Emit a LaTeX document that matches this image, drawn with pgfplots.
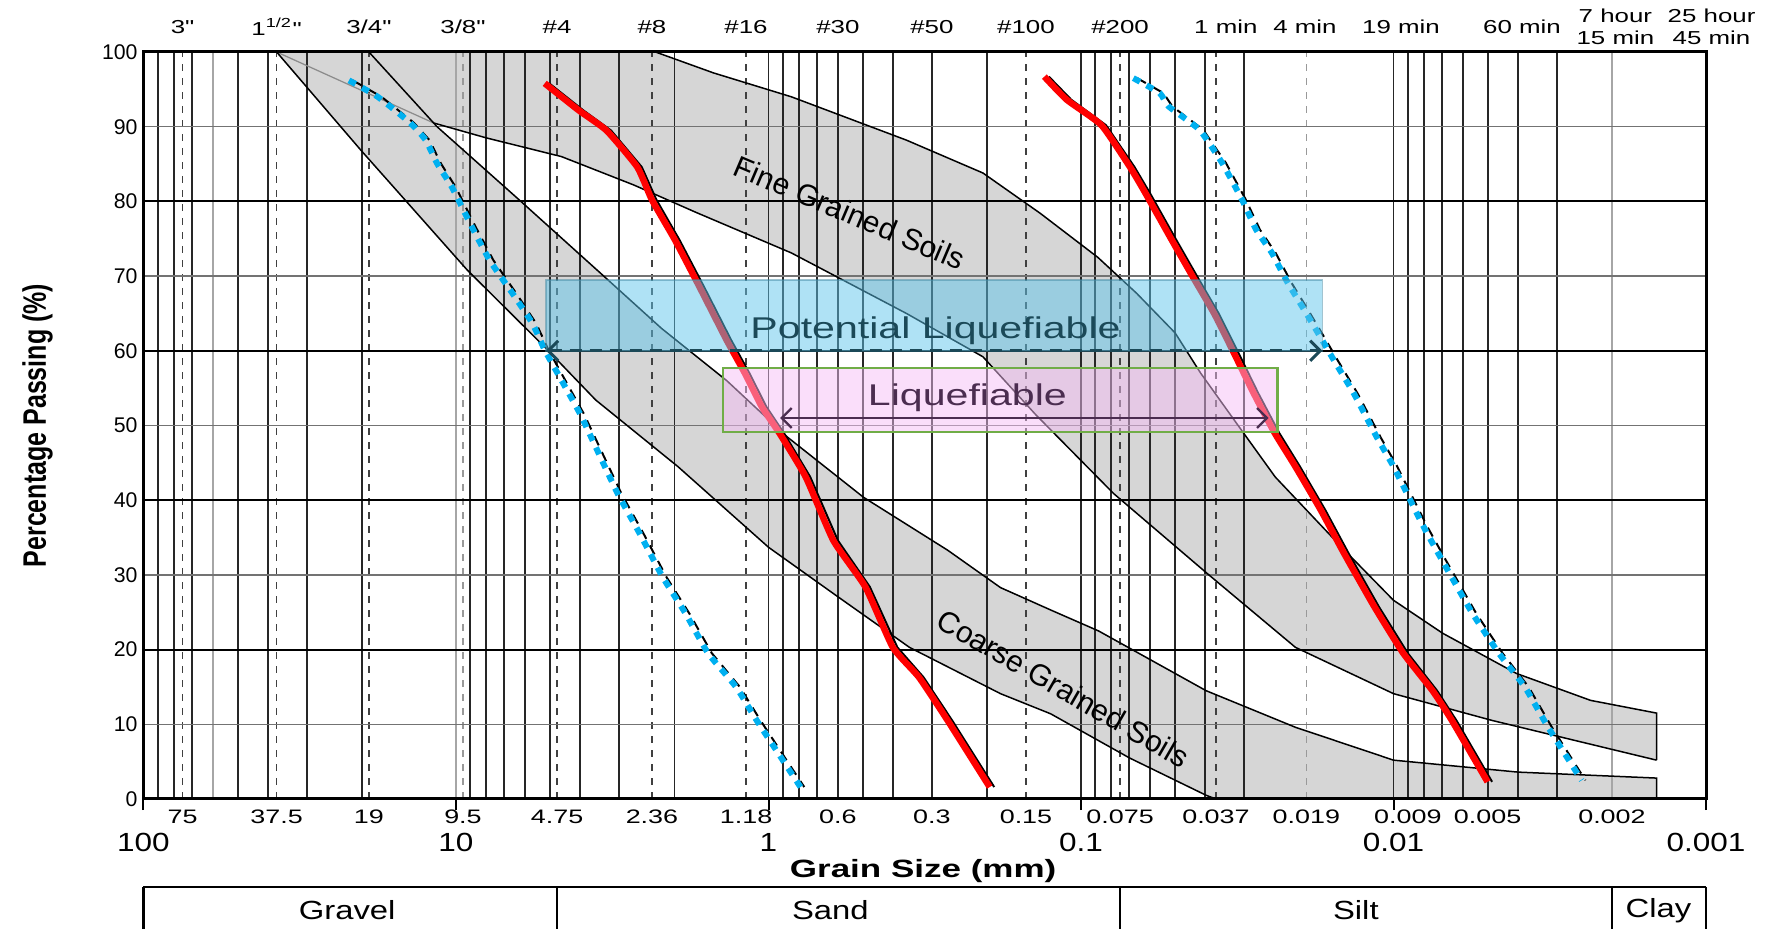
\documentclass[border=0pt]{standalone}
\usepackage{fontspec}
\setmainfont{Liberation Sans}
\newfontfamily\rawfont{Liberation Sans}[Ligatures=TeXOff]
\usepackage{graphicx}
\usepackage{pgfplots}
\pgfplotsset{compat=1.18}
\usetikzlibrary{arrows.meta,calc}

\definecolor{bandgray}{RGB}{214,214,214}
\definecolor{potfill}{RGB}{95,197,235}
\definecolor{potline}{RGB}{27,73,88}
\definecolor{liqfill}{RGB}{245,190,245}
\definecolor{liqline}{RGB}{112,173,71}
\definecolor{liqtext}{RGB}{75,45,80}
\definecolor{bluedot}{RGB}{0,176,240}

% horizontal stretch, the reference text is drawn wide
\newcommand{\sx}[2][1.35]{\scalebox{#1}[1]{#2}}
\newcommand{\dq}{{\rawfont\char"22\relax}}

\begin{document}
\begin{tikzpicture}
\begin{axis}[
  name=ax,
  xmode=log, x dir=reverse,
  xmin=0.001, xmax=100, ymin=0, ymax=100,
  width=625pt, height=298.8pt, scale only axis,
  clip=false, axis on top,
  axis line style={line width=1.2pt},
  xtick={100,10,1,0.1,0.01,0.001}, xticklabels={},
  xminorticks=false,
  xtick pos=bottom,
  tick align=outside, major tick length=4.5pt,
  x tick style={line width=0.8pt, black},
  ytick=\empty,
]

% ---- grey bands ----
% fine grained soils
\addplot[fill=bandgray, draw=none] coordinates {
  (37.5,100)(11.8,90.5)(8,88.5)(4.6,86)(2.7,82.2)(1.7,78.5)(0.845,73.1)(0.362,65.0)
  (0.206,59.2)(0.14,51.5)(0.0787,40.9)(0.0395,30.2)(0.0206,20.3)(0.01,14.1)(0.00482,10.5)(0.00144,5.2)
  (0.00144,11.5)(0.00234,13.2)(0.00404,16.8)(0.00697,22.2)(0.0100,26.6)(0.01435,33.3)(0.0239,43.1)
  (0.0318,50.3)(0.0414,57.0)(0.050,62.4)(0.0664,67.7)(0.0883,72.5)(0.135,78.4)(0.206,83.8)
  (0.362,88.2)(0.845,94.0)(1.5,97.2)(2.3,100)} -- cycle;
% coarse grained soils
\addplot[fill=bandgray, draw=none] coordinates {
  (37.5,100)(20.2,86.9)(9.2,70.8)(5.2,60.5)(3.57,53.4)(1.95,44.5)(1.0,33.7)(0.62,27.5)
  (0.354,20.3)(0.181,14.1)(0.125,11.4)(0.07,5.5)(0.0398,0.5)(0.037,0)(0.00144,0)
  (0.00144,2.8)(0.004,3.6)(0.01,5.2)(0.0206,9.6)(0.0398,14.5)(0.0879,22.5)(0.125,25.3)
  (0.181,28.3)(0.267,33.3)(0.497,40.4)(0.873,48.5)(1.36,56)(2.2,63)(3.45,70.4)(6.2,80)(11.5,90)(19,100)} -- cycle;

% ---- grid ----
\pgfplotsinvokeforeach{90,80,70,50,40,30,20,9,8,7,6,5,4,3,2,1,0.9,0.8,0.7,0.6,0.5,0.4,0.3,0.2,0.1,
  0.09,0.08,0.07,0.06,0.05,0.04,0.03,0.01,0.009,0.008,0.007,0.006,0.005,0.004,0.003}{
  \draw[black!85, line width=0.75pt] (axis cs:#1,0) -- (axis cs:#1,100);}
\pgfplotsinvokeforeach{60,10,0.002}{
  \draw[black!35, line width=0.7pt] (axis cs:#1,0) -- (axis cs:#1,100);}
\pgfplotsinvokeforeach{75,37.5,19,4.75,2.36,1.18,0.15,0.075,0.037}{
  \draw[black!75, line width=0.6pt, dash pattern=on 2.8pt off 2.8pt] (axis cs:#1,0) -- (axis cs:#1,100);}
\pgfplotsinvokeforeach{9.5,0.019}{
  \draw[black!40, line width=0.6pt, dash pattern=on 2.8pt off 2.8pt] (axis cs:#1,0) -- (axis cs:#1,100);}
\pgfplotsinvokeforeach{20,40,60,80}{
  \draw[black, line width=0.8pt] (axis cs:100,#1) -- (axis cs:0.001,#1);}
\pgfplotsinvokeforeach{10,30,50,70,90}{
  \draw[black!55, line width=0.6pt] (axis cs:100,#1) -- (axis cs:0.001,#1);}

% ---- band outlines ----
\addplot[black!45, line width=0.5pt] coordinates {(37.5,100)(11.8,90.5)};
\addplot[black, line width=0.6pt] coordinates {
  (11.8,90.5)(8,88.5)(4.6,86)(2.7,82.2)(1.7,78.5)(0.845,73.1)(0.362,65.0)
  (0.206,59.2)(0.14,51.5)(0.0787,40.9)(0.0395,30.2)(0.0206,20.3)(0.01,14.1)(0.00482,10.5)(0.00144,5.2)};
\addplot[black, line width=0.6pt] coordinates {
  (2.3,100)(1.5,97.2)(0.845,94.0)(0.362,88.2)(0.206,83.8)(0.135,78.4)(0.0883,72.5)(0.0664,67.7)
  (0.050,62.4)(0.0414,57.0)(0.0318,50.3)(0.0239,43.1)(0.01435,33.3)(0.0100,26.6)(0.00697,22.2)
  (0.00404,16.8)(0.00234,13.2)(0.00144,11.5)(0.00144,5.2)};
\addplot[black, line width=0.6pt] coordinates {
  (37.5,100)(20.2,86.9)(9.2,70.8)(5.2,60.5)(3.57,53.4)(1.95,44.5)(1.0,33.7)(0.62,27.5)
  (0.354,20.3)(0.181,14.1)(0.125,11.4)(0.07,5.5)(0.0398,0.5)(0.037,0)};
\addplot[black, line width=0.6pt] coordinates {
  (19,100)(11.5,90)(6.2,80)(3.45,70.4)(2.2,63)(1.36,56)(0.873,48.5)(0.497,40.4)(0.267,33.3)
  (0.181,28.3)(0.125,25.3)(0.0879,22.5)(0.0398,14.5)(0.0206,9.6)(0.01,5.2)(0.004,3.6)(0.00144,2.8)(0.00144,0)};

% ---- gradation curves ----
\pgfplotstableread{
d p
5.2 95.8
4.05 92.2
3.3 89.5
2.63 84.6
2.36 80.2
1.99 74.8
1.66 68.5
1.36 61.4
1.19 57
1.05 52.5
0.92 48.9
0.76 43.1
0.62 34.6
0.49 28.4
0.40 20.3
0.33 16.3
0.267 10.5
0.196 1.6
}\redA
\pgfplotstableread{
d p
0.131 96.7
0.111 93.6
0.086 90.2
0.0697 84.6
0.062 81
0.0515 75
0.0440 70
0.0375 65
0.0324 59.7
0.028 54.3
0.0240 49
0.0206 44.5
0.0171 38.7
0.0144 32.9
0.0115 25.7
0.0093 19.5
0.0075 14.5
0.0065 10.5
0.0050 2.3
}\redB
\pgfplotstableread{
d p
22 96.2
17.8 94
14 90.5
12.5 88.2
11.5 85.1
10.3 81.9
8.9 76.6
7.8 72.1
6.6 67.7
5.7 63.7
5.2 60.1
4.66 56.5
4.0 51.5
3.57 47.1
3.04 40.9
2.58 35.5
2.18 29.7
1.84 24.8
1.56 19.5
1.27 15
1.09 10.5
0.93 6.1
0.79 1.6
}\blueA
\pgfplotstableread{
d p
0.068 96.5
0.056 94.5
0.0524 92.7
0.0418 89.6
0.0353 85.1
0.0305 80.2
0.0275 76.2
0.0245 73.1
0.0218 69.1
0.019 65
0.0169 61.4
0.0155 58.7
0.0134 54.3
0.0113 48.4
0.0100 44.5
0.0080 36.4
0.0070 32
0.0056 24.9
0.0046 19.5
0.0038 15
0.0032 9.6
0.0025 2.5
}\blueB

\addplot[black, line width=0.8pt, xshift=1.8pt] table[x=d,y=p] {\redA};
\addplot[black, line width=0.8pt, xshift=1.8pt] table[x=d,y=p] {\redB};
\addplot[black, line width=0.8pt, dash pattern=on 4pt off 3pt, xshift=1.5pt] table[x=d,y=p] {\blueA};
\addplot[black, line width=0.8pt, dash pattern=on 4pt off 3pt, xshift=1.5pt] table[x=d,y=p] {\blueB};
\addplot[red, line width=2.6pt, smooth, tension=0.3] table[x=d,y=p] {\redA};
\addplot[red, line width=2.6pt, smooth, tension=0.3] table[x=d,y=p] {\redB};
\addplot[bluedot, line width=2.4pt, dash pattern=on 3pt off 3pt, smooth, tension=0.3] table[x=d,y=p] {\blueA};
\addplot[bluedot, line width=2.4pt, dash pattern=on 3pt off 3pt, smooth, tension=0.3] table[x=d,y=p] {\blueB};

% ---- liquefaction boxes ----
\addplot[draw=potfill!70!black, draw opacity=0.5, line width=0.6pt, fill=potfill, fill opacity=0.5]
  coordinates {(5.15,60)(0.0169,60)(0.0169,69.5)(5.15,69.5)} -- cycle;
\addplot[draw=liqline, line width=0.9pt, fill=liqfill, fill opacity=0.5]
  coordinates {(1.40,49.1)(0.0235,49.1)(0.0235,57.7)(1.40,57.7)} -- cycle;
\draw[potline, line width=1.2pt, dash pattern=on 5pt off 3pt,
  {Straight Barb[length=4pt,width=8pt]}-{Straight Barb[length=4pt,width=8pt]}]
  (axis cs:5.15,60) -- (axis cs:0.0169,60);
\draw[liqtext, line width=0.9pt,
  {Straight Barb[length=4pt,width=8pt]}-{Straight Barb[length=4pt,width=8pt]}]
  (axis cs:0.918,51) -- (axis cs:0.0251,51);
\node[potline, font=\fontsize{12}{14}\selectfont] at (axis cs:0.292,62.7) {\sx[1.37]{Potential Liquefiable}};
\node[liqtext, font=\fontsize{12}{14}\selectfont] at (axis cs:0.231,53.7) {\sx[1.37]{Liquefiable}};
\node[rotate=-23, font=\fontsize{12}{14}\selectfont] at (axis cs:0.55,78.5) {Fine Grained Soils};
\node[rotate=-30, font=\fontsize{12}{14}\selectfont] at (axis cs:0.114,14.8) {Coarse Grained Soils};

% ---- percentage labels ----
\pgfplotsinvokeforeach{0,10,20,30,40,50,60,70,80,90,100}{
  \node[anchor=east, font=\fontsize{8.5}{10}\selectfont, inner sep=0pt, xshift=-2.2pt] at (axis cs:100,#1) {#1};}

% ---- sieve labels, top ----
\begin{scope}[every node/.style={font=\fontsize{7.5}{8.8}\selectfont, yshift=10pt, align=center}]
\node at (axis cs:75,100) {\sx[1.38]{3\dq}};
\node at (axis cs:37.5,100) {\sx[1.38]{1\textsuperscript{1/2}\dq}};
\node at (axis cs:19,100) {\sx[1.38]{3/4\dq}};
\node at (axis cs:9.5,100) {\sx[1.38]{3/8\dq}};
\node at (axis cs:4.75,100) {\sx[1.38]{\#4}};
\node at (axis cs:2.36,100) {\sx[1.38]{\#8}};
\node at (axis cs:1.18,100) {\sx[1.38]{\#16}};
\node at (axis cs:0.6,100) {\sx[1.38]{\#30}};
\node at (axis cs:0.3,100) {\sx[1.38]{\#50}};
\node at (axis cs:0.15,100) {\sx[1.38]{\#100}};
\node at (axis cs:0.075,100) {\sx[1.38]{\#200}};
\node at (axis cs:0.0344,100) {\sx[1.38]{1 min}};
\node at (axis cs:0.0192,100) {\sx[1.38]{4 min}};
\node at (axis cs:0.00946,100) {\sx[1.38]{19 min}};
\node at (axis cs:0.00388,100) {\sx[1.38]{60 min}};
\node at (axis cs:0.00195,100) {\sx[1.38]{7 hour}\\\sx[1.38]{15 min}};
\node at (axis cs:0.00096,100) {\sx[1.38]{25 hour}\\\sx[1.38]{45 min}};
\end{scope}

% ---- sieve sizes, bottom ----
\begin{scope}[every node/.style={font=\fontsize{7.8}{9}\selectfont, yshift=-7.2pt}]
\pgfplotsinvokeforeach{75,37.5,19,9.5,4.75,2.36,1.18,0.6,0.3,0.15,0.075,0.037,0.019,0.009,0.005,0.002}{
  \node at (axis cs:#1,0) {\sx[1.38]{#1}};}
\end{scope}
\begin{scope}[every node/.style={font=\fontsize{10.5}{12}\selectfont, yshift=-17.2pt}]
\pgfplotsinvokeforeach{100,10,1,0.1,0.01,0.001}{
  \node at (axis cs:#1,0) {\sx[1.2]{#1}};}
\end{scope}
\node[font=\bfseries\fontsize{10}{12}\selectfont, yshift=-29pt] at (axis cs:0.32,0) {\sx[1.4]{Grain Size (mm)}};

% ---- soil classes ----
\draw[line width=1pt] (axis cs:100,-11.78) -- (axis cs:0.001,-11.78);
\pgfplotsinvokeforeach{100,4.75,0.075,0.002,0.001}{
  \draw[line width=1pt] (axis cs:#1,-11.78) -- (axis cs:#1,-20);}
\begin{scope}[every node/.style={font=\fontsize{10.5}{12}\selectfont}]
\node at (axis cs:22.3,-14.9) {\sx[1.25]{Gravel}};
\node at (axis cs:0.634,-14.9) {\sx[1.25]{Sand}};
\node at (axis cs:0.0132,-14.9) {\sx[1.25]{Silt}};
\node at (axis cs:0.00142,-14.9) {\sx[1.25]{Clay}};
\end{scope}
\end{axis}
\node[rotate=90, font=\bfseries\fontsize{10}{12}\selectfont] at ($(ax.west)+(-42.4pt,0)$)
  {\scalebox{1}[1.3]{Percentage Passing (\%)}};
\pgfresetboundingbox
\path[use as bounding box] ($(ax.south west)+(-57.4pt,-51.8pt)$) rectangle ($(ax.north east)+(26pt,20.8pt)$);
\end{tikzpicture}
\end{document}
